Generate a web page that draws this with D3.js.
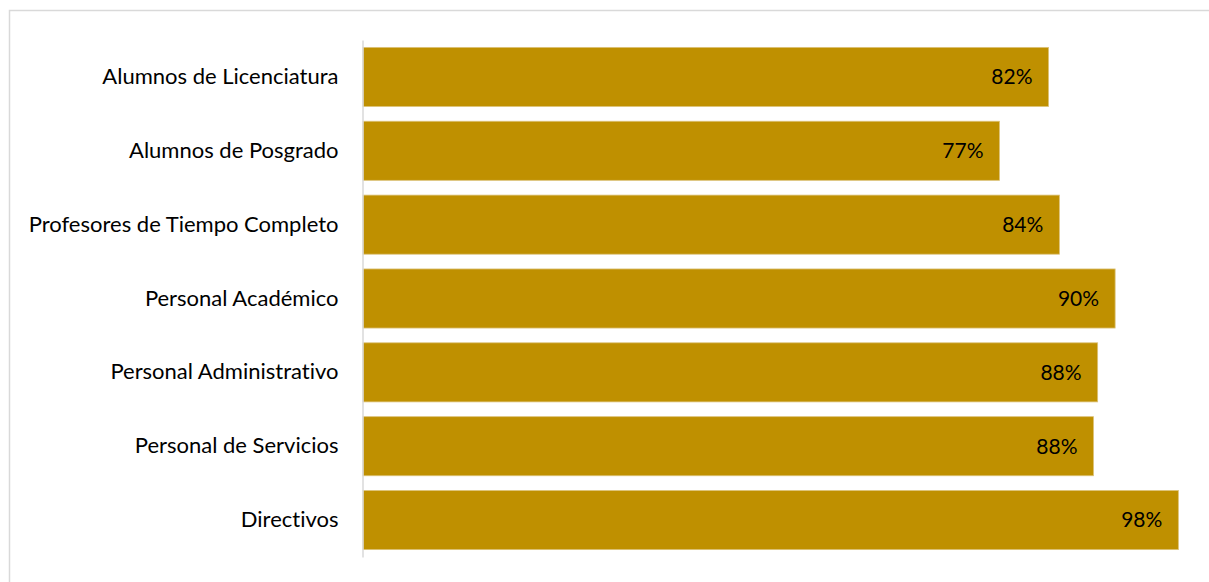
<!DOCTYPE html>
<html>
<head>
<meta charset="utf-8">
<script src="https://cdn.jsdelivr.net/npm/d3@7"></script>
<style>
  html, body { margin: 0; padding: 0; background: #fff; }
  svg { display: block; }
  text { font-variant-ligatures: none; font-feature-settings: "liga" 0, "clig" 0; }
</style>
</head>
<body>
<svg id="chart" width="1209" height="582"></svg>
<script>
const categories = [
  "Alumnos de Licenciatura",
  "Alumnos de Posgrado",
  "Profesores de Tiempo Completo",
  "Personal Académico",
  "Personal Administrativo",
  "Personal de Servicios",
  "Directivos"
];
const values = [0.824, 0.765, 0.837, 0.904, 0.883, 0.878, 0.980];
const valueLabels = ["82%", "77%", "84%", "90%", "88%", "88%", "98%"];

const svg = d3.select("#chart");
const font = "Lato, 'Open Sans', sans-serif";

// outer chart border
svg.append("rect")
  .attr("x", 9.5).attr("y", 10.5)
  .attr("width", 1400).attr("height", 800)
  .attr("fill", "none").attr("stroke", "#d9d9d9").attr("stroke-width", 1.5);

const x = d3.scaleLinear().domain([0, 1]).range([363, 1195]);
const y = d3.scaleBand().domain(categories).range([40, 557]).paddingInner(0.2).paddingOuter(0.1);

const data = categories.map((c, i) => ({ c, v: values[i], l: valueLabels[i] }));

svg.selectAll("rect.bar").data(data).join("rect")
  .attr("class", "bar")
  .attr("x", x(0))
  .attr("y", d => y(d.c))
  .attr("width", d => x(d.v) - x(0))
  .attr("height", y.bandwidth())
  .attr("fill", "#BF9000")
  .attr("stroke", "#dcc278")
  .attr("stroke-width", 0.8);

// category axis
const yAxis = d3.axisLeft(y).tickSize(0).tickPadding(24);
const gy = svg.append("g").attr("transform", `translate(${x(0) - 0.5},0)`).call(yAxis);
gy.select(".domain").attr("stroke", "#d9d9d9").attr("stroke-width", 1.5);
gy.selectAll("text")
  .attr("font-family", font).attr("font-size", 22).attr("fill", "#000");

// value labels
svg.selectAll("text.val").data(data).join("text")
  .attr("class", "val")
  .attr("x", d => x(d.v) - 16)
  .attr("y", d => y(d.c) + y.bandwidth() / 2)
  .attr("dy", "0.35em")
  .attr("text-anchor", "end")
  .attr("font-family", font).attr("font-size", 21).attr("fill", "#000")
  .text(d => d.l);
</script>
</body>
</html>
